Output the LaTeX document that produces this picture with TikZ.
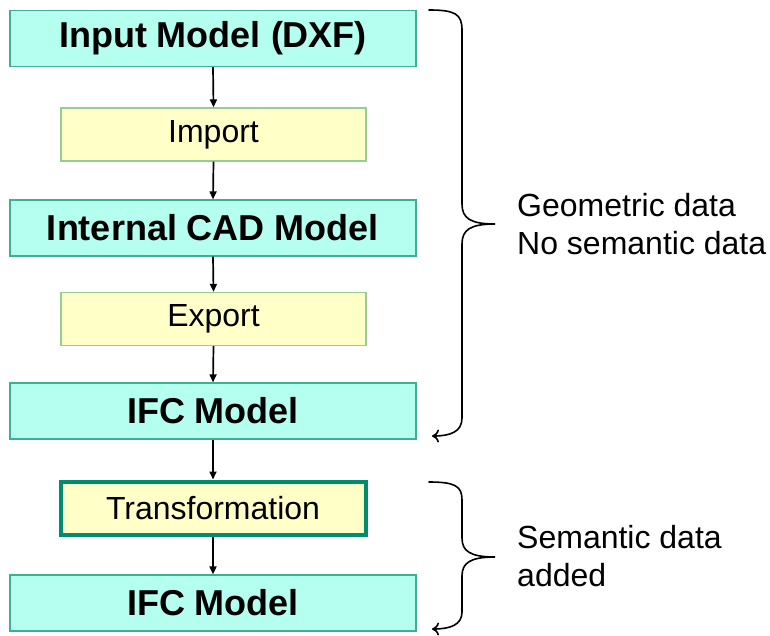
\documentclass[tikz,border=0pt]{standalone}
\usepackage{fontspec}
\setmainfont{Liberation Sans}
\usetikzlibrary{arrows.meta}
\definecolor{modelfill}{RGB}{180,255,240}
\definecolor{modeledge}{RGB}{60,175,150}
\definecolor{stepfill}{RGB}{255,255,200}
\definecolor{stepedge}{RGB}{150,205,150}
\definecolor{keyedge}{RGB}{0,140,110}
\tikzset{
  modelbox/.style={draw=modeledge, fill=modelfill, line width=1.2pt,
    minimum width=406pt, minimum height=56pt, inner sep=0pt,
    font=\fontsize{36}{40}\selectfont\bfseries},
  stepbox/.style={draw=stepedge, fill=stepfill, line width=1.2pt,
    minimum width=305pt, minimum height=53pt, inner sep=0pt,
    font=\fontsize{32}{36}\selectfont},
  keybox/.style={stepbox, draw=keyedge, line width=4pt},
  flow/.style={-{Triangle[length=8pt,width=7pt]}, line width=1.7pt, black},
  brace/.style={line width=1.6pt, black, line cap=round,
    -{To[length=7pt,width=13pt,line width=1.6pt]}},
  note/.style={font=\fontsize{32}{38}\selectfont, align=left, anchor=west, inner sep=0pt}
}
\begin{document}
\begin{tikzpicture}[x=1pt,y=-1pt]
\useasboundingbox (0,0) rectangle (770,635);

\node[modelbox] (input) at (213,38.5) {Input Model (DXF)};
\node[stepbox]  (import) at (213.5,134.5) {Import};
\node[modelbox] (cad) at (213,228) {Internal CAD Model};
\node[stepbox]  (export) at (213.5,319) {Export};
\node[modelbox] (ifc1) at (213,411) {IFC Model};
\node[keybox]   (trans) at (213,508) {Transformation};
\node[modelbox] (ifc2) at (213,603) {IFC Model};

\draw[flow] (input.south) -- (import.north);
\draw[flow] (import.south) -- (cad.north);
\draw[flow] (cad.south) -- (export.north);
\draw[flow] (export.south) -- (ifc1.north);
\draw[flow] (ifc1.south) -- (trans.north);
\draw[flow] (trans.south) -- (ifc2.north);

% braces grouping the stages
\coordinate (b1top) at (429,10);
\coordinate (b1tip) at (495,224);
\coordinate (b1end) at (432,436);
\draw[brace] (b1top) .. controls (455,10) and (462,14) .. (462,30)
  -- (462,204) .. controls (462,218) and (470,224) .. (b1tip)
  .. controls (470,224) and (462,230) .. (462,244)
  -- (462,418) .. controls (462,432) and (450,436) .. (b1end);

\coordinate (b2top) at (429,482);
\coordinate (b2tip) at (495,557);
\coordinate (b2end) at (432,629);
\draw[brace] (b2top) .. controls (455,482) and (462,486) .. (462,500)
  -- (462,538) .. controls (462,551) and (470,557) .. (b2tip)
  .. controls (470,557) and (462,563) .. (462,576)
  -- (462,612) .. controls (462,625) and (450,629) .. (b2end);

\node[note] (geo) at (517,224) {Geometric data\\No semantic data};
\node[note] (sem) at (517,556) {Semantic data\\added};
\end{tikzpicture}
\end{document}
